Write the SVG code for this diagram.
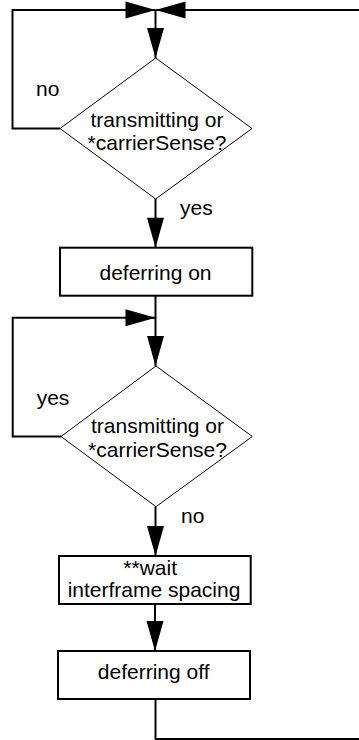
<svg xmlns="http://www.w3.org/2000/svg" width="359" height="740" viewBox="0 0 359 740">
<style>
.c{fill:none;stroke:#000;stroke-width:2;marker-end:url(#ah)}
.d{fill:#fff;stroke:#000;stroke-width:1}
.b{fill:#fff;stroke:#000;stroke-width:2}
text{font-family:"Liberation Sans",Arial,sans-serif;font-size:21px;fill:#000}
.m{text-anchor:middle}
</style>
<defs>
<marker id="ah" markerUnits="userSpaceOnUse" markerWidth="30" markerHeight="17" refX="30" refY="8.5" orient="auto" overflow="visible">
<path d="M0,0 L30,8.5 L0,17 Z" fill="#000"/>
</marker>
</defs>
<rect width="359" height="740" fill="#fff"/>
<g id="connectors">
<path class="c" d="M60,128.5 H12.5 V10 H155.5"/>
<path class="c" d="M155.5,699 V739 H363 V10 H155.5"/>
<path class="c" d="M155.5,10 V58"/>
<path class="c" d="M155.5,199 V247.7"/>
<path class="c" d="M155.5,295.7 V366"/>
<path class="c" d="M61,436.5 H12.7 V317.7 H155.5"/>
<path class="c" d="M155.5,506.7 V556"/>
<path class="c" d="M155,604 V651"/>
<text x="36" y="96">no</text>
<text x="180" y="215">yes</text>
<text x="36.7" y="405">yes</text>
<text x="181" y="522.7">no</text>
</g>
<g id="decision1">
<polygon class="d" points="155.7,58 252,128.5 155.7,199 60,128.5"/>
<text class="m" x="157" y="126.5">transmitting or</text>
<text class="m" x="157" y="150">*carrierSense?</text>
</g>
<g id="deferringOn">
<rect class="b" x="60" y="247.7" width="192.3" height="48"/>
<text class="m" x="155.5" y="279.5">deferring on</text>
</g>
<g id="decision2">
<polygon class="d" points="156,366 252.3,436.5 156,506.7 61,436.5"/>
<text class="m" x="157.5" y="433">transmitting or</text>
<text class="m" x="157.5" y="456.5">*carrierSense?</text>
</g>
<g id="waitIFS">
<rect class="b" x="59" y="556" width="191.7" height="48"/>
<text x="123.3" y="575">**wait</text>
<text class="m" x="154" y="596.5">interframe spacing</text>
</g>
<g id="deferringOff">
<rect class="b" x="58" y="651" width="192" height="48"/>
<text class="m" x="153.7" y="679.3">deferring off</text>
</g>
</svg>
